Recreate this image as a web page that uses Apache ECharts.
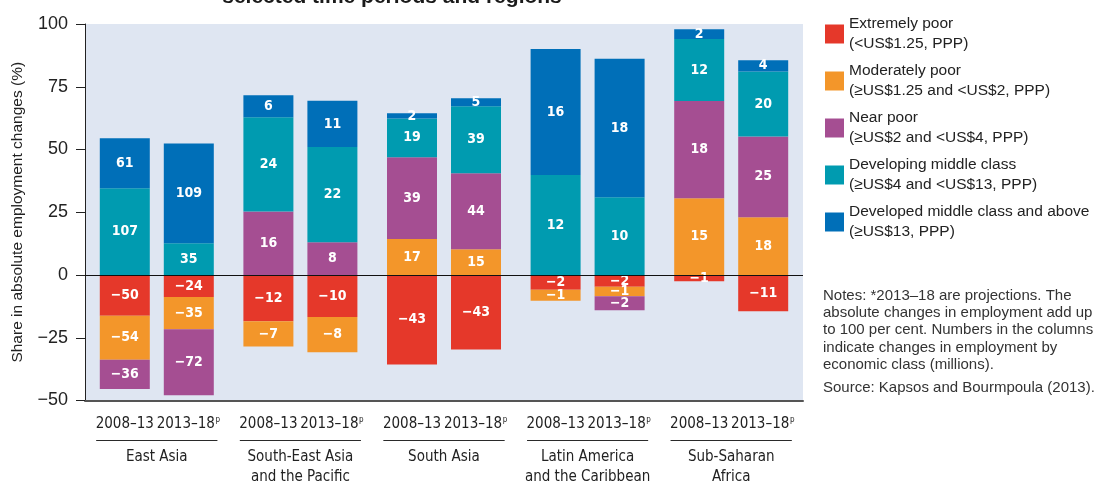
<!DOCTYPE html>
<html>
<head>
<meta charset="utf-8">
<script src="https://cdn.jsdelivr.net/npm/echarts@6/dist/echarts.min.js"></script>
<style>
  html, body { margin: 0; padding: 0; background: #fff; }
  #chart { width: 1109px; height: 484px; }
</style>
</head>
<body>
<div id="chart"></div>
<script>
  // categories
  const regions = ['East Asia', 'South-East Asia\nand the Pacific', 'South Asia', 'Latin America\nand the Caribbean', 'Sub-Saharan\nAfrica']
  const periods = ['2008–13', '2013–18']
  const classNames = ['Extremely poor', 'Moderately poor', 'Near poor', 'Developing middle class', 'Developed middle class and above']
  const classRanges = ['(<US$1.25, PPP)', '(≥US$1.25 and <US$2, PPP)', '(≥US$2 and <US$4, PPP)', '(≥US$4 and <US$13, PPP)', '(≥US$13, PPP)']
  const yTicks = [-50, -25, 0, 25, 50, 75, 100]

  // share in absolute employment changes (%), 2008–13
  const extremeShare0813 = [-16.2, -18.4, -35.7, -5.9, -2.5]
  const moderateShare0813 = [-17.6, -10.1, 14.3, -4.4, 30.6]
  const nearShare0813 = [-11.6, 25.3, 32.6, 0, 38.7]
  const developingShare0813 = [34.6, 37.5, 15.5, 39.8, 24.7]
  const developedShare0813 = [19.9, 8.8, 2.0, 50.2, 3.9]

  // share in absolute employment changes (%), 2013–18 (projections)
  const extremeShare1318 = [-8.8, -16.7, -29.7, -4.7, -14.4]
  const moderateShare1318 = [-12.8, -14.1, 10.3, -3.8, 23.0]
  const nearShare1318 = [-26.3, 13.0, 30.2, -5.5, 32.2]
  const developingShare1318 = [12.6, 38.0, 26.7, 31.0, 25.9]
  const developedShare1318 = [39.8, 18.4, 3.2, 55.2, 4.5]

  // numbers printed in the columns: change in employment (millions)
  const extremeMillions0813 = [-50, -12, -43, -2, -1]
  const moderateMillions0813 = [-54, -7, 17, -1, 15]
  const nearMillions0813 = [-36, 16, 39, null, 18]
  const developingMillions0813 = [107, 24, 19, 12, 12]
  const developedMillions0813 = [61, 6, 2, 16, 2]

  const extremeMillions1318 = [-24, -10, -43, -2, -11]
  const moderateMillions1318 = [-35, -8, 15, -1, 18]
  const nearMillions1318 = [-72, 8, 44, -2, 25]
  const developingMillions1318 = [35, 22, 39, 10, 20]
  const developedMillions1318 = [109, 11, 5, 18, 4]

  const colors = ['#e5382a', '#f3962a', '#a54e92', '#009bb0', '#006fb8']
  const narrow = '"DejaVu Sans Condensed", "Liberation Sans Narrow", sans-serif'
  const plain = '"Liberation Sans", Arial, sans-serif'

  const minus = v => String(v).replace('-', '−')

  const shares = [
    [extremeShare0813, moderateShare0813, nearShare0813, developingShare0813, developedShare0813],
    [extremeShare1318, moderateShare1318, nearShare1318, developingShare1318, developedShare1318]
  ]
  const millions = [
    [extremeMillions0813, moderateMillions0813, nearMillions0813, developingMillions0813, developedMillions0813],
    [extremeMillions1318, moderateMillions1318, nearMillions1318, developingMillions1318, developedMillions1318]
  ]

  const series = []
  for (let c = 0; c < classNames.length; c++) {
    for (let p = 0; p < periods.length; p++) {
      const labels = millions[p][c]
      series.push({
        name: classNames[c],
        type: 'bar',
        stack: 'period' + p,
        barWidth: 50,
        barGap: '28%',
        itemStyle: { color: colors[c] },
        label: {
          show: true,
          position: 'inside',
          color: '#fff',
          fontFamily: narrow,
          fontWeight: 'bold',
          fontSize: 14,
          formatter: params => labels[params.dataIndex] == null ? '' : minus(labels[params.dataIndex])
        },
        data: shares[p][c]
      })
    }
  }
  // zero line over the bars
  series[series.length - 1].markLine = {
    silent: true,
    symbol: 'none',
    label: { show: false },
    lineStyle: { color: '#111', width: 1, type: 'solid' },
    data: [{ yAxis: 0 }]
  }

  const chart = echarts.init(document.getElementById('chart'))
  chart.setOption({
    animation: false,
    grid: {
      left: 85, right: 306, top: 24, bottom: 83.5,
      outerBoundsMode: 'none',
      show: true, backgroundColor: '#dfe6f2', borderWidth: 0
    },
    legend: {
      data: classNames,
      orient: 'vertical',
      left: 825,
      top: 14,
      padding: 0,
      itemWidth: 19,
      itemHeight: 19,
      itemGap: 7,
      icon: 'rect',
      selectedMode: false,
      formatter: name => name + '\n' + classRanges[classNames.indexOf(name)],
      textStyle: { fontFamily: plain, fontSize: 15.5, lineHeight: 20, color: '#222' }
    },
    xAxis: {
      type: 'category',
      data: regions,
      axisLine: { onZero: false, lineStyle: { color: '#555', width: 2 } },
      axisTick: { show: false },
      axisLabel: {
        interval: 0,
        margin: 15,
        formatter: value => {
          const nameLines = value.split('\n').map(l => '{r|' + l + '}').join('\n')
          return '{a|' + periods[0] + '}{b|' + periods[1] + '}{s|p}\n{u|}\n' + nameLines
        },
        rich: {
          a: { width: 64, align: 'center', fontFamily: narrow, fontSize: 15, lineHeight: 18, color: '#222' },
          b: { width: 58, align: 'center', fontFamily: narrow, fontSize: 15, lineHeight: 18, color: '#222' },
          s: { width: 6, align: 'center', fontFamily: narrow, fontSize: 8, lineHeight: 12, verticalAlign: 'top', color: '#222' },
          u: { width: 121, height: 0, borderColor: '#222', borderWidth: 0.8, lineHeight: 14 },
          r: { fontFamily: narrow, fontSize: 15, lineHeight: 20, color: '#222' }
        }
      }
    },
    yAxis: {
      type: 'value',
      min: yTicks[0],
      max: yTicks[yTicks.length - 1],
      interval: 25,
      name: 'Share in absolute employment changes (%)',
      nameLocation: 'middle',
      nameGap: 59,
      nameTextStyle: { fontFamily: plain, fontSize: 15.5, color: '#222' },
      axisLine: { show: true, lineStyle: { color: '#222', width: 1 } },
      axisTick: { show: true, length: 9, lineStyle: { color: '#222' } },
      splitLine: { show: false },
      axisLabel: { margin: 17, fontFamily: plain, fontSize: 18, color: '#222', formatter: minus }
    },
    graphic: [
      {
        type: 'text',
        style: {
          x: 392, y: -3,
          text: 'selected time periods and regions',
          align: 'center', verticalAlign: 'middle',
          font: 'bold 21px "Liberation Sans", Arial, sans-serif',
          fill: '#1a1a1a'
        }
      },
      {
        type: 'text',
        style: {
          x: 823, y: 287,
          text: 'Notes: *2013–18 are projections. The\nabsolute changes in employment add up\nto 100 per cent. Numbers in the columns\nindicate changes in employment by\neconomic class (millions).',
          font: '15px "Liberation Sans", Arial, sans-serif',
          lineHeight: 17.3,
          fill: '#333'
        }
      },
      {
        type: 'text',
        style: {
          x: 823, y: 379,
          text: 'Source: Kapsos and Bourmpoula (2013).',
          font: '15px "Liberation Sans", Arial, sans-serif',
          lineHeight: 17.3,
          fill: '#333'
        }
      }
    ],
    series: series
  })
</script>
</body>
</html>
